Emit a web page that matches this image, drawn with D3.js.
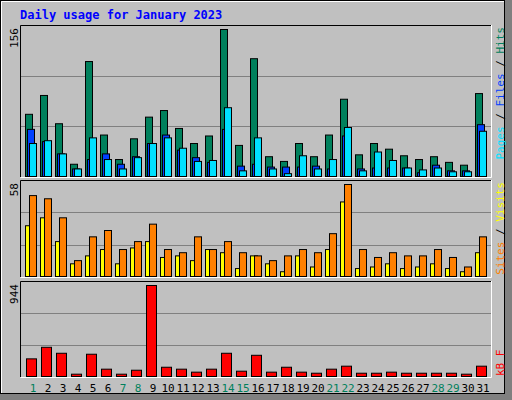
<!DOCTYPE html>
<html><head><meta charset="utf-8">
<script src="https://cdn.jsdelivr.net/npm/d3@7"></script>
<style>body{margin:0;background:#fff}</style>
</head><body><div id="chart"></div>
<script>
// daily values
const days = d3.range(1, 32);
const weekend = [1, 7, 8, 14, 15, 21, 22, 28, 29];
const hits  = [66,86,56,13,122,44,18,40,63,70,51,35,43,156,33,125,21,16,35,21,44,82,23,35,29,22,18,21,15,12,88];
const files = [50,37,24,8,18,24,13,21,35,44,28,20,15,50,11,13,10,10,10,11,8,43,8,9,9,9,4,12,6,6,55];
const pages = [35,38,24,8,41,18,8,20,35,41,30,16,17,73,6,41,8,3,22,8,18,52,6,26,17,9,7,9,5,5,48];
const visits = [32,37,22,8,13,17,8,18,22,12,13,10,17,15,5,13,8,3,13,6,17,47,5,6,8,5,6,8,5,3,15];
const sites  = [51,49,37,10,25,29,17,22,33,17,15,25,17,22,15,13,10,13,17,15,27,58,17,12,15,13,13,17,12,6,25];
const kbytes = [183,303,241,24,231,76,24,65,944,96,76,45,76,241,55,220,45,96,45,34,76,107,34,34,45,34,34,34,34,24,107];

const W = 512, H = 400;
const svg = d3.select('#chart').append('svg').attr('width', W).attr('height', H);

// background with bevel
svg.append('rect').attr('width', W).attr('height', H).attr('fill', '#c0c0c0');
svg.append('rect').attr('x', 505).attr('y', 0).attr('width', 7).attr('height', H).attr('fill', '#808080');
svg.append('rect').attr('x', 0).attr('y', 394).attr('width', W).attr('height', 6).attr('fill', '#808080');
svg.append('rect').attr('x', 0.5).attr('y', 0.5).attr('width', 504).attr('height', 393).attr('fill', 'none').attr('stroke', '#000');
svg.append('path').attr('d', 'M1.5,393 V1.5 H504').attr('stroke', '#fff').attr('fill', 'none');

svg.append('text').attr('x', 20).attr('y', 19)
    .attr('font-family', 'DejaVu Sans Mono').attr('font-weight', 'bold').attr('font-size', 12)
    .attr('fill', '#0000ff').text('Daily usage for January 2023');

const x = d3.scaleBand().domain(days).range([25, 490]);

const panels = [
    {top: 25, bottom: 177, max: 156, series: [
        {data: hits, color: '#00805c', off: 0, w: 7},
        {data: files, color: '#0040ff', off: 2, w: 7},
        {data: pages, color: '#00e0ff', off: 4, w: 7}],
     legend: [['Pages', '#00e0ff'], [' / ', '#000'], ['Files', '#0040ff'], [' / ', '#000'], ['Hits', '#00805c']], legendTop: true},
    {top: 180, bottom: 277, max: 58, series: [
        {data: visits, color: '#ffff00', off: 0, w: 7},
        {data: sites, color: '#ff8000', off: 4, w: 7}],
     legend: [['Sites', '#ff8000'], [' / ', '#000'], ['Visits', '#ffff00']], legendTop: true},
    {top: 281, bottom: 377, max: 944, series: [
        {data: kbytes, color: '#ff0000', off: 1, w: 10}],
     legend: [['kB F', '#ff0000']], legendTop: false}
];

panels.forEach(p => {
    const g = svg.append('g');
    // frame
    g.append('path').attr('d', `M20.5,${p.bottom} V${p.top + 0.5} H491`).attr('stroke', '#000').attr('fill', 'none');
    g.append('path').attr('d', `M20.5,${p.bottom + 0.5} H491.5 V${p.top}`).attr('stroke', '#fff').attr('fill', 'none');
    // gridlines at thirds
    const h = p.bottom - p.top;
    [1, 2].forEach(i => {
        const gy = Math.round(p.top + h * i / 3) + 0.5;
        g.append('line').attr('x1', 21).attr('x2', 491).attr('y1', gy).attr('y2', gy).attr('stroke', '#808080');
    });
    const y = d3.scaleLinear().domain([0, p.max]).range([p.bottom - 1, p.top + 4]);
    p.series.forEach(s => {
        g.selectAll(null).data(s.data).join('rect')
            .attr('x', (d, i) => x(days[i]) + s.off + 0.5)
            .attr('y', d => y(d) + 0.5)
            .attr('width', s.w)
            .attr('height', d => y(0) - y(d))
            .attr('fill', s.color).attr('stroke', '#000');
    });
    // max label
    svg.append('text').attr('transform', `translate(18,${p.top + 3}) rotate(-90)`)
        .attr('text-anchor', 'end').attr('font-family', 'DejaVu Sans Mono').attr('font-size', 11)
        .text(p.max);
    // legend
    const lt = svg.append('text')
        .attr('transform', `translate(504,${p.legendTop ? p.top + 2 : p.bottom - 1}) rotate(-90)`)
        .attr('text-anchor', p.legendTop ? 'end' : 'start')
        .attr('font-family', 'DejaVu Sans Mono').attr('font-size', 11);
    p.legend.forEach(([t, c]) => lt.append('tspan').attr('fill', c).attr('xml:space', 'preserve').text(t));
});

// day labels
svg.selectAll('.day').data(days).join('text')
    .attr('x', d => x(d) + 8).attr('y', 392)
    .attr('text-anchor', 'middle').attr('font-family', 'DejaVu Sans Mono').attr('font-size', 11)
    .attr('fill', d => weekend.includes(d) ? '#00805c' : '#000')
    .text(d => d);
</script></body></html>
